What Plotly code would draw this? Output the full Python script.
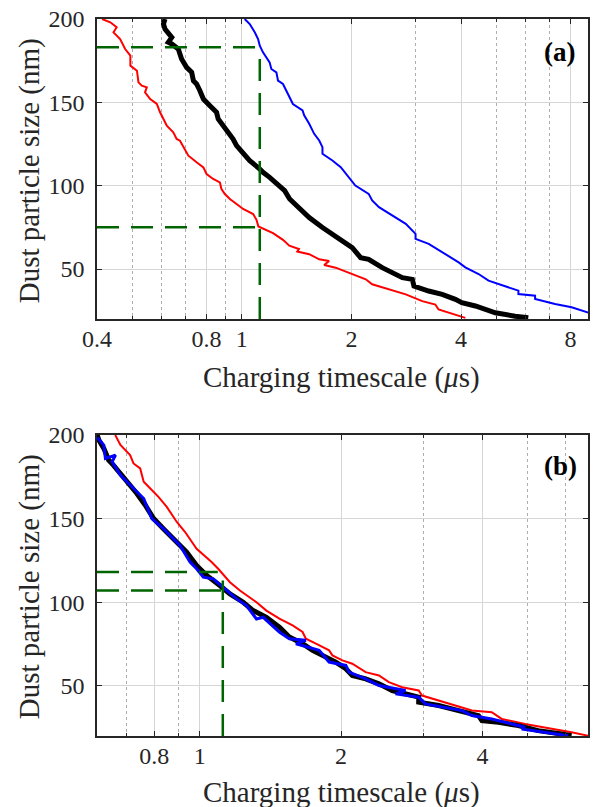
import math
import plotly.graph_objects as go

# ---------------- data ----------------
# Panel (a): charging timescale (us) vs dust particle size (nm)
red_a_t = [0.413, 0.435, 0.453, 0.444, 0.463, 0.478, 0.494, 0.494, 0.515, 0.520, 0.531, 0.548, 0.542, 0.560,
           0.584, 0.596, 0.609, 0.622, 0.648, 0.662, 0.676, 0.698, 0.713, 0.751, 0.784, 0.800, 0.834, 0.870,
           0.879, 0.898, 0.927, 0.967, 1.008, 1.074, 1.097, 1.11, 1.218, 1.297, 1.35, 1.435, 1.42, 1.531,
           1.631, 1.736, 1.683, 1.81, 1.97, 2.19, 2.28, 2.54, 2.82, 3.13, 3.40, 3.47, 3.70, 4.11]
red_a_s = [200, 198, 195, 192, 188, 182, 178, 172, 169, 162, 160, 159, 156, 152,
           149, 144, 140, 136, 132, 128, 127, 121, 118, 114, 111, 107, 104, 102,
           98, 95, 92, 89, 86, 83, 79.5, 75.5, 71.5, 67.5, 64, 62, 60.5, 58.9,
           55.8, 54.8, 52.4, 50.8, 47.8, 43.8, 40.8, 37.8, 34.8, 30.7, 28.7, 25.7, 23.7, 20.7]

black_a_t = [0.615, 0.609, 0.615, 0.628, 0.642, 0.628, 0.642, 0.669, 0.683, 0.705, 0.728, 0.736, 0.751, 0.767,
             0.784, 0.817, 0.852, 0.861, 0.889, 0.917, 0.946, 0.967, 1.008, 1.018, 1.051, 1.12, 1.143, 1.192,
             1.27, 1.311, 1.353, 1.41, 1.468, 1.531, 1.665, 1.773, 2.01, 2.12, 2.23, 2.43, 2.76, 2.94, 2.97,
             3.26, 3.55, 3.86, 4.02, 4.38, 4.97, 5.63, 6.12]
black_a_s = [200, 197, 194, 191, 189, 186, 185, 182, 176, 171, 168, 163, 161, 157,
             152, 148, 144, 140, 136, 132, 128, 124, 120, 118, 115, 110, 108, 105,
             100, 97, 92, 88, 85.0, 80.9, 74.9, 70.9, 62.8, 56.8, 55.8, 50.8, 44.8, 43.8, 39.8,
             36.8, 34.8, 31.8, 29.8, 27.8, 23.7, 21.7, 20.7]

blue_a_t = [1.018, 1.051, 1.085, 1.108, 1.12, 1.143, 1.192, 1.205, 1.244, 1.257, 1.297, 1.324, 1.353, 1.381,
            1.468, 1.483, 1.531, 1.58, 1.631, 1.665, 1.665, 1.773, 1.869, 1.97, 2.05, 2.23, 2.28, 2.38,
            2.54, 2.82, 3.0, 3.0, 3.26, 3.62, 3.94, 4.11, 4.47, 4.76, 5.40, 5.75, 5.75, 6.39, 6.39, 7.25,
            8.05, 8.94]
blue_a_s = [200, 197, 192, 188, 184, 180, 174, 170, 168, 163, 161, 157, 152, 149,
            145.2, 142.2, 137.1, 131.1, 127.1, 123.1, 119.1, 115.1, 111.1, 105.1, 100.1, 95.1, 91.1, 87.1,
            83.1, 77.1, 71.1, 68.1, 65.1, 59.1, 54.0, 51.0, 47.0, 43.0, 39.0, 37.0, 35.0, 34.0, 32.0, 29.0,
            27.0, 23.9]

# Panel (b)
red_b_t = [0.661, 0.678, 0.711, 0.723, 0.747, 0.760, 0.785, 0.817, 0.851, 0.894, 0.931, 0.985, 1.060, 1.095,
           1.160, 1.218, 1.321, 1.387, 1.478, 1.577, 1.656, 1.683, 1.768, 1.886, 1.917, 2.013, 2.113, 2.256,
           2.408, 2.528, 2.698, 2.926, 2.975, 3.227, 3.558, 3.797, 4.186, 4.396, 4.926, 5.430, 6.186, 6.71]
red_b_s = [200, 194, 188, 183, 180, 172, 168, 163, 157, 148, 142, 132, 124, 120,
           112, 107, 100, 95, 90.2, 86.2, 82.2, 78.2, 75.2, 71.2, 68.2, 65.2, 63.2, 58.2,
           56.2, 52.2, 49.2, 47.2, 44.2, 41.2, 37.2, 35.2, 34.2, 30.2, 27.2, 25.2, 22.2, 20.2]

black_b_t = [0.605, 0.610, 0.625, 0.640, 0.655, 0.678, 0.700, 0.735, 0.766, 0.798, 0.837, 0.894, 0.938, 0.985,
             1.035, 1.104, 1.160, 1.238, 1.300, 1.387, 1.480, 1.552, 1.656, 1.739, 1.826, 1.949, 2.047, 2.113,
             2.256, 2.408, 2.570, 2.743, 2.926, 2.926, 3.227, 3.558, 3.923, 3.99, 4.325, 4.77, 5.26, 5.89, 6.19]
black_b_s = [200, 197, 192, 185, 182, 177, 172, 165, 158, 150, 144, 136, 130, 122,
             116, 110, 105, 100, 95, 91, 85, 79.2, 75.2, 71.2, 68.2, 64.2, 60.2, 56.2,
             54.2, 51.2, 47.2, 45.2, 43.2, 40.2, 38.2, 35.2, 32.2, 29.2, 28.2, 26.2, 23.2, 21.2, 20.2]

blue_b_t = [0.605, 0.625, 0.630, 0.662, 0.651, 0.678, 0.700, 0.747, 0.760, 0.791, 0.837, 0.908, 0.954, 0.985,
            1.018, 1.069, 1.122, 1.198, 1.258, 1.321, 1.365, 1.480, 1.552, 1.683, 1.603, 1.796, 1.886, 2.047,
            2.080, 2.256, 2.408, 2.743, 2.612, 2.926, 3.025, 3.334, 3.617, 3.797, 4.186, 4.617, 4.926, 4.85,
            5.43, 6.09]
blue_b_s = [198.5, 194, 186, 188, 184, 176, 172, 164, 162, 150, 144, 134, 124, 120,
            115, 114, 109, 102, 98, 90, 91, 82, 78.2, 77.2, 75.2, 71.2, 64.2, 62.2,
            58.2, 54.2, 50.2, 47.2, 45.2, 43.2, 39.2, 37.2, 35.2, 32.2, 30.2, 27.2, 25.2, 24.2,
            22.2, 20.2]

# Guide (dashed) lines: timescale marker and size markers
guide_a_time = 1.12
guide_a_sizes = [183, 75]
guide_b_time = 1.12
guide_b_sizes = [118, 107]
guide_b_hend = [1.093, 1.12]
guide_b_vtop = 113

# Axes
x_a_range = [0.4, 8.93]
x_b_range = [0.6045, 6.71]
y_range = [20, 200]
x_a_ticks = [0.4, 0.8, 1, 2, 4, 8]
x_a_minor = [0.5, 0.6, 0.7, 0.9, 3, 5, 6, 7]
x_b_ticks = [0.8, 1, 2, 4]
x_b_minor = [0.7, 0.9, 3, 5, 6]
y_ticks = [50, 100, 150, 200]

x_title = "Charging timescale (<i>μ</i>s)"
y_title = "Dust particle size (nm)"

# ---------------- figure ----------------
FONT = "Liberation Serif"
AX = "#262626"
GREEN = "rgb(0,100,0)"

fig = go.Figure()

def add_line(x, y, color, width, xa, ya, dash=None):
    fig.add_trace(go.Scatter(x=x, y=y, mode="lines", xaxis=xa, yaxis=ya,
                             line=dict(color=color, width=width, dash=dash),
                             showlegend=False, hoverinfo="skip"))

# panel a
add_line(red_a_t, red_a_s, "#ff0000", 2, "x", "y")
add_line(black_a_t, black_a_s, "#000000", 5, "x", "y")
add_line(blue_a_t, blue_a_s, "#0000ff", 2, "x", "y")
DASH = "22px,12px"
for s in guide_a_sizes:
    add_line([x_a_range[0], guide_a_time], [s, s], GREEN, 2.5, "x", "y", DASH)
add_line([guide_a_time, guide_a_time], [y_range[0], max(guide_a_sizes)], GREEN, 2.5, "x", "y", DASH)

# panel b
add_line(red_b_t, red_b_s, "#ff0000", 2, "x2", "y2")
add_line(black_b_t, black_b_s, "#000000", 5, "x2", "y2")
add_line(blue_b_t, blue_b_s, "#0000ff", 3, "x2", "y2")
for s, xe in zip(guide_b_sizes, guide_b_hend):
    add_line([x_b_range[0], xe], [s, s], GREEN, 2.5, "x2", "y2", DASH)
add_line([guide_b_time, guide_b_time], [y_range[0], guide_b_vtop], GREEN, 2.5, "x2", "y2", DASH)

tickfont = dict(family=FONT, size=24, color=AX)

def xaxis_cfg(rng, ticks, minor, anchor):
    return dict(type="log", range=[math.log10(rng[0]), math.log10(rng[1])],
                tickmode="array", tickvals=ticks, ticktext=[("%g" % t) for t in ticks],
                tickfont=tickfont, showline=True, linecolor=AX, linewidth=1.6, mirror="allticks",
                ticks="inside", ticklen=5, tickcolor=AX, tickwidth=1,
                showgrid=True, gridcolor="#d6d6d6", gridwidth=1, zeroline=False,
                minor=dict(tickmode="array", tickvals=minor, ticks="inside", ticklen=3, tickcolor=AX,
                           showgrid=True, gridcolor="#adadad", griddash="dot", gridwidth=1),
                anchor=anchor, domain=[0, 1], ticklabelstandoff=-3)

def yaxis_cfg(domain, anchor):
    return dict(range=y_range, tickmode="array", tickvals=y_ticks, tickfont=tickfont,
                showline=True, linecolor=AX, linewidth=1.6, mirror="allticks",
                ticks="inside", ticklen=5, tickcolor=AX, tickwidth=1,
                showgrid=True, gridcolor="#d6d6d6", gridwidth=1, zeroline=False,
                anchor=anchor, domain=domain, ticklabelstandoff=6)

H, T, B = 807, 19, 71
PH = H - T - B

def py(pix):
    return (H - B - pix) / PH

fig.update_layout(
    width=595, height=807, autosize=False,
    margin=dict(l=97, r=5, t=T, b=B),
    paper_bgcolor="white", plot_bgcolor="white",
    xaxis=xaxis_cfg(x_a_range, x_a_ticks, x_a_minor, "y"),
    yaxis=yaxis_cfg([py(319), 1], "x"),
    xaxis2=xaxis_cfg(x_b_range, x_b_ticks, x_b_minor, "y2"),
    yaxis2=yaxis_cfg([0, py(435)], "x2"),
)

def px(pix):
    return (pix - 97) / 493

title_font = dict(family=FONT, size=29, color=AX)
annos = [
    dict(text=x_title, x=px(342), y=py(377), font=title_font),
    dict(text=x_title, x=px(342), y=py(792), font=title_font),
    dict(text=y_title, x=px(29), y=py(171), textangle=-90, font=title_font),
    dict(text=y_title, x=px(29), y=py(587), textangle=-90, font=title_font),
    dict(text="<b>(a)</b>", x=px(561), y=py(52), font=dict(family=FONT, size=27, color="#000")),
    dict(text="<b>(b)</b>", x=px(562), y=py(466), font=dict(family=FONT, size=27, color="#000")),
]
for a in annos:
    a.update(xref="paper", yref="paper", xanchor="center", yanchor="middle", showarrow=False)
fig.update_layout(annotations=annos)

fig.write_html("out.html", config={"displayModeBar": False},
               post_script="document.body.style.margin='0px';")
